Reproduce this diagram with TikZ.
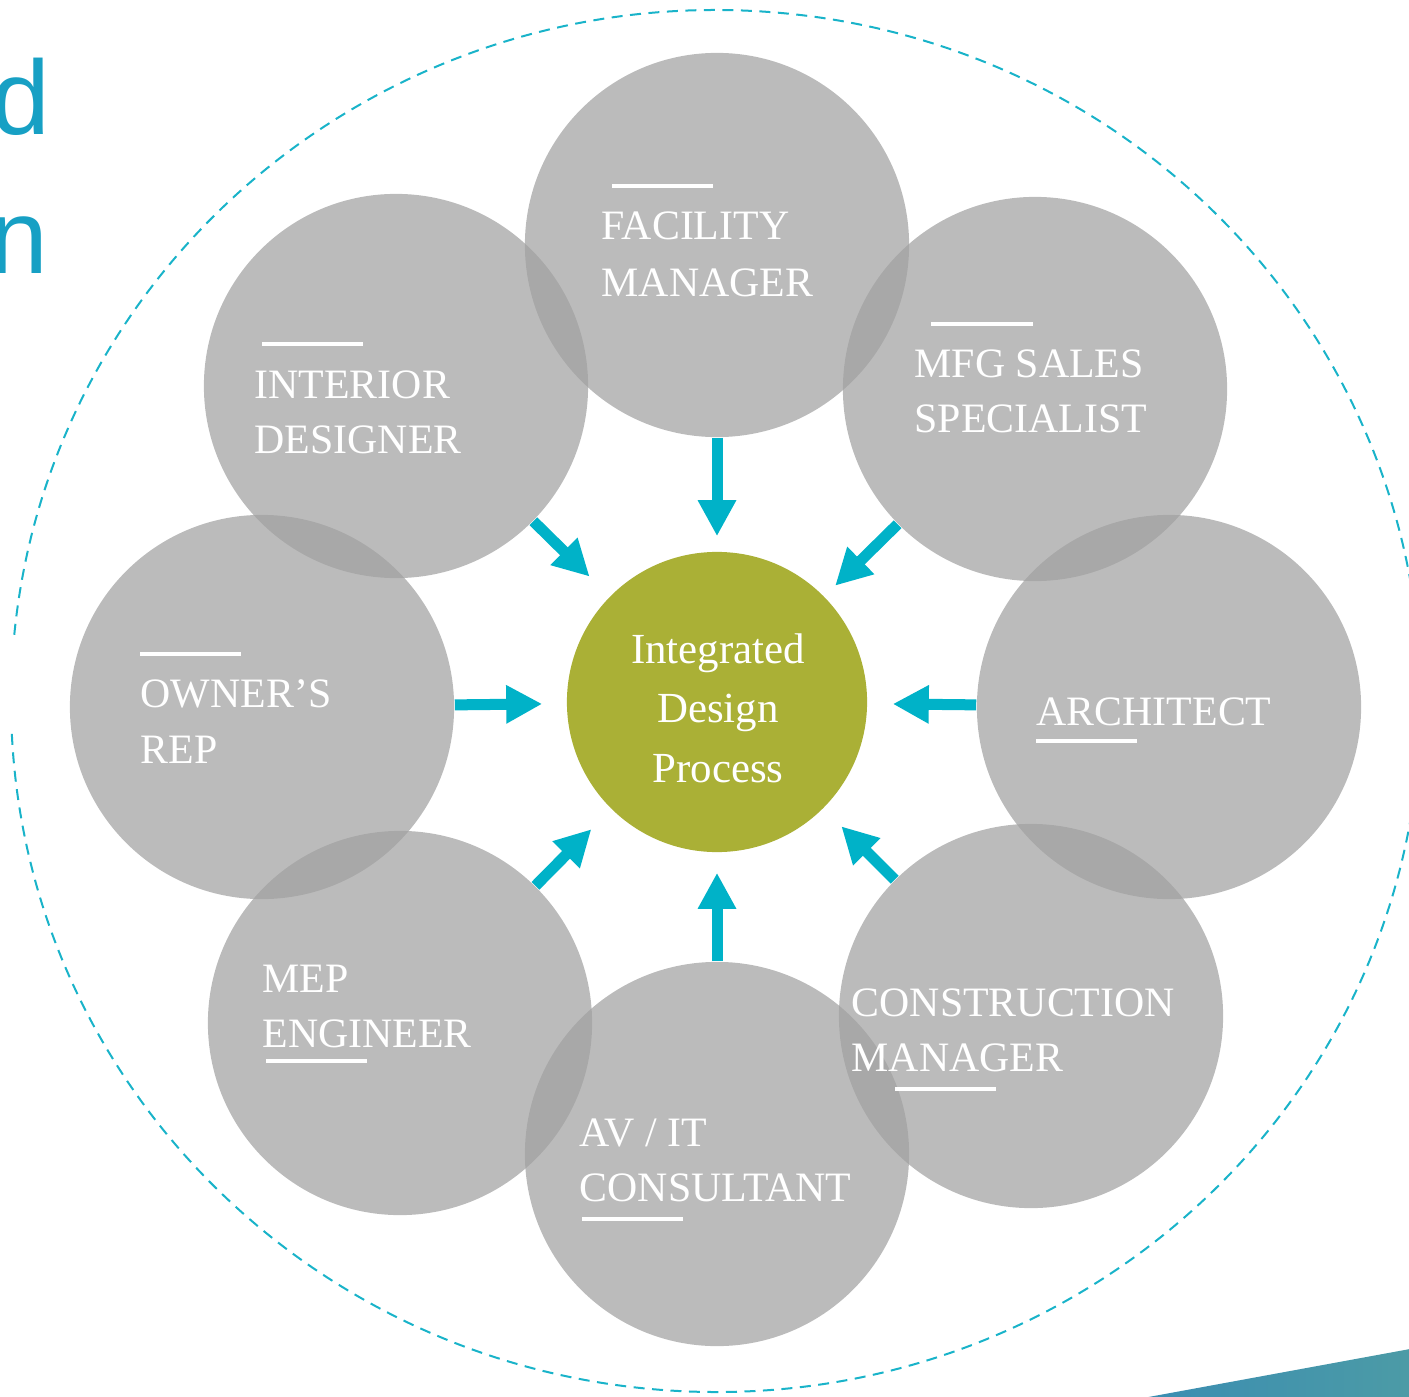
\documentclass[tikz,border=0pt]{standalone}
\usepackage{fontspec}
\setmainfont{Liberation Serif}
\newfontfamily\sansf{Liberation Sans}
\usetikzlibrary{arrows.meta,shapes.geometric}
\pgfdeclarelayer{background}
\pgfsetlayers{background,main}
\definecolor{teal}{HTML}{00B2C8}
\definecolor{dashteal}{HTML}{19B3C9}
\definecolor{olive}{HTML}{AAB036}
\definecolor{sidetext}{HTML}{17A0C4}
\definecolor{grayfill}{HTML}{A1A1A1}
\definecolor{cornerA}{HTML}{3A8DB2}
\definecolor{cornerB}{HTML}{4C9BA6}
\tikzset{
  role/.style={circle, minimum size=3.84cm, inner sep=0pt, fill=grayfill, fill opacity=0.72},
  hub/.style={circle, minimum size=3.0cm, inner sep=0pt, fill=olive},
  lbl/.style={anchor=base west, inner sep=0pt, text=white, font=\fontsize{11.9}{14}\selectfont},
  hubtxt/.style={anchor=base, inner sep=0pt, text=white, font=\fontsize{12.2}{15}\selectfont},
  bar/.style={draw=white, line width=0.04cm},
  arr/.style={draw=teal, line width=0.11cm, -{Triangle[length=0.36cm,width=0.36cm]}},
  side/.style={anchor=base east, inner sep=0pt, text=sidetext, font=\sansf\fontsize{30}{30}\selectfont}
}
\begin{document}
\begin{tikzpicture}[x=0.01cm, y=-0.01cm]
\useasboundingbox (0,0) rectangle (1409,1397);
% side text
\node[side] (sd) at (51,135) {d};
\node[side] (sn) at (49,273) {n};
% corner shape
\shade[left color=cornerA, right color=cornerB] (1143,1398) -- (1410,1349) -- (1410,1398) -- cycle;
% role circles
\node[role] (fm)  at (717,245)  {};
\node[role] (mfg) at (1035,389) {};
\node[role] (ar)  at (1169,707) {};
\node[role] (cm)  at (1031,1016) {};
\node[role] (av)  at (717,1154) {};
\node[role] (mep) at (400,1023) {};
\node[role] (or)  at (262,707)  {};
\node[role] (id)  at (396,386)  {};
\node[hub] (idp) at (717,702) {};
% background: dashed ellipse and arrows
\begin{pgfonlayer}{background}
\draw[dashteal, line width=0.02cm, dash pattern=on 0.11cm off 0.075cm]
  (716,701) ++(185.5:705 and 691) arc[start angle=185.5, end angle=537.6, x radius=705, y radius=691];
\draw[arr, shorten >=0.15cm] (fm) -- (idp);
\draw[arr, shorten >=0.15cm] (mfg) -- (idp);
\draw[arr, shorten >=0.25cm] (ar) -- (idp);
\draw[arr, shorten >=0.25cm] (cm) -- (idp);
\draw[arr, shorten >=0.20cm] (av) -- (idp);
\draw[arr, shorten >=0.28cm] (mep) -- (idp);
\draw[arr, shorten >=0.24cm] (or) -- (idp);
\draw[arr, shorten >=0.28cm] (id) -- (idp);
\end{pgfonlayer}
% hub text
\node[hubtxt] (h1) at (718,663) {Integrated};
\node[hubtxt] (h2) at (718,722) {Design};
\node[hubtxt] (h3) at (718,782) {Process};
% labels
\node[lbl] (fm1) at (601,240) {FACILITY};
\node[lbl] (fm2) at (601,296) {MANAGER};
\draw[bar] (612,186) -- (713,186);
\node[lbl] (mfg1) at (914,377) {MFG SALES};
\node[lbl] (mfg2) at (914,432) {SPECIALIST};
\draw[bar] (931,324) -- (1033,324);
\node[lbl] (id1) at (254,398) {INTERIOR};
\node[lbl] (id2) at (254,453) {DESIGNER};
\draw[bar] (262,344) -- (363,344);
\node[lbl] (or1) at (140,707) {OWNER’S};
\node[lbl] (or2) at (140,763) {REP};
\draw[bar] (140,654) -- (241,654);
\node[lbl] (ar1) at (1036,725) {ARCHITECT};
\draw[bar] (1036,741) -- (1137,741);
\node[lbl] (cm1) at (851,1016) {CONSTRUCTION};
\node[lbl] (cm2) at (851,1071) {MANAGER};
\draw[bar] (895,1089) -- (996,1089);
\node[lbl] (av1) at (579,1146) {AV / IT};
\node[lbl] (av2) at (579,1201) {CONSULTANT};
\draw[bar] (582,1219) -- (683,1219);
\node[lbl] (mep1) at (262,992) {MEP};
\node[lbl] (mep2) at (262,1047) {ENGINEER};
\draw[bar] (266,1061) -- (367,1061);
\end{tikzpicture}
\end{document}
